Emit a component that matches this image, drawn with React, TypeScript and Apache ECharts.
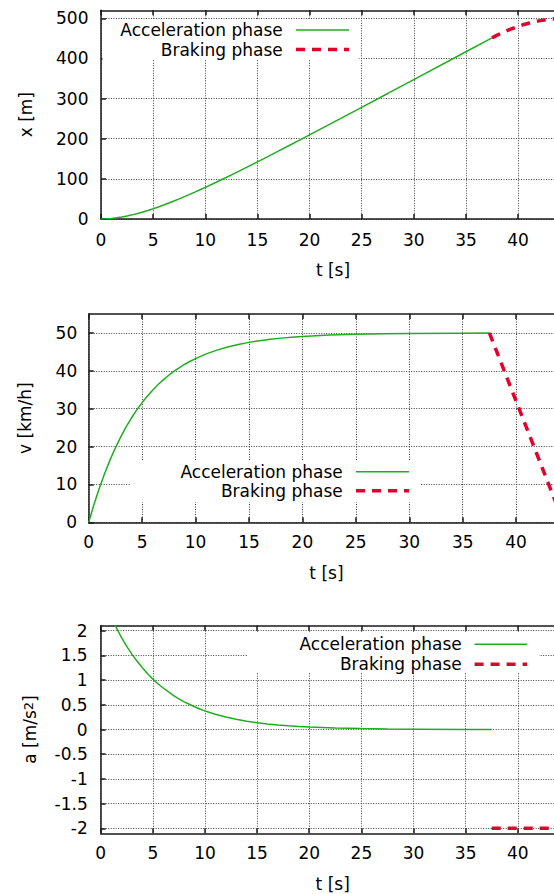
import { useEffect, useRef } from 'react';
import * as echarts from 'echarts';

// ---- data ----
const accelTime = [0, 0.5, 1, 1.5, 2, 2.5, 3, 3.5, 4, 4.5, 5, 5.5, 6, 6.5, 7, 7.5, 8, 8.5, 9, 9.5, 10, 11, 12, 13, 14, 15, 16, 17, 18, 19, 20, 22.5, 25, 27.5, 30, 35, 37.5];
const accelPosition = [0, 0.34, 1.3, 2.84, 4.88, 7.4, 10.33, 13.65, 17.32, 21.29, 25.55, 30.06, 34.81, 39.76, 44.9, 50.22, 55.69, 61.3, 67.04, 72.89, 78.84, 91.03, 103.52, 116.27, 129.22, 142.35, 155.61, 168.99, 182.46, 196.0, 209.61, 243.83, 278.25, 312.79, 347.4, 416.73, 451.43];
const accelVelocity = [0, 4.76, 9.06, 12.96, 16.48, 19.67, 22.56, 25.17, 27.53, 29.67, 31.61, 33.36, 34.94, 36.37, 37.67, 38.84, 39.91, 40.87, 41.74, 42.52, 43.23, 44.46, 45.46, 46.29, 46.96, 47.51, 47.96, 48.33, 48.63, 48.88, 49.08, 49.44, 49.66, 49.8, 49.88, 49.95, 49.97];
const accelAcceleration = [2.78, 2.51, 2.27, 2.06, 1.86, 1.68, 1.52, 1.38, 1.25, 1.13, 1.02, 0.92, 0.84, 0.76, 0.685, 0.62, 0.56, 0.51, 0.46, 0.415, 0.376, 0.308, 0.252, 0.206, 0.169, 0.138, 0.113, 0.093, 0.076, 0.062, 0.051, 0.031, 0.019, 0.011, 0.007, 0.0025, 0.0015];

const brakeTime = [37.5, 38, 38.5, 39, 39.5, 40, 40.5, 41, 41.5, 42, 42.5, 43, 43.5, 44, 44.44];
const brakePosition = [451.43, 458.12, 464.32, 470.01, 475.21, 479.9, 484.1, 487.79, 490.99, 493.68, 495.88, 497.57, 498.76, 499.46, 499.65];
const brakeVelocityTime = [37.5, 44.44];
const brakeVelocity = [50, 0];
const brakeAccelerationTime = [37.5, 44.44];
const brakeAcceleration = [-2, -2];

const timeTicks = [0, 5, 10, 15, 20, 25, 30, 35, 40];
const positionTicks = [0, 100, 200, 300, 400, 500];
const velocityTicks = [0, 10, 20, 30, 40, 50];
const accelerationTicks = [-2, -1.5, -1, -0.5, 0, 0.5, 1, 1.5, 2];

const seriesNames = ['Acceleration phase', 'Braking phase'];
const timeTitle = 't [s]';

// ---- styles ----
const FONT = 'DejaVu Sans';
const FS = 17;
const GREEN = '#1fae1f';
const RED = '#e3002c';
const BORDER = '#1a1a1a';
const GRIDC = '#404040';
const DASH = [9, 7];

const pairs = (xs: number[], ys: number[]) => xs.map((x, i) => [x, ys[i]]);

const panels = [
  {
    grid: { left: 101, top: 10.3, width: 464, height: 208.7 },
    yMin: 0, yMax: 520, yTicks: positionTicks, yName: 'x [m]', yGap: 67,
    xMargin: 12, yMargin: 12.5,
    accel: pairs(accelTime, accelPosition), brake: pairs(brakeTime, brakePosition),
    legend: { box: [102.5, 20, 256.5, 40], right: 282.7, y1: 30, y2: 49.6, s1: 296, s2: 349 },
  },
  {
    grid: { left: 88.7, top: 314, width: 475.5, height: 208.3 },
    yMin: 0, yMax: 55, yTicks: velocityTicks, yName: 'v [km/h]', yGap: 55,
    xMargin: 11, yMargin: 11.5,
    accel: pairs(accelTime, accelVelocity), brake: pairs(brakeVelocityTime, brakeVelocity),
    legend: { box: [130, 460, 290, 42], right: 342.8, y1: 471.7, y2: 490.7, s1: 356, s2: 409 },
  },
  {
    grid: { left: 100.7, top: 625.7, width: 464, height: 207.6 },
    yMin: -2.1, yMax: 2.1, yTicks: accelerationTicks, yName: 'a [m/s{sup|2}]', yGap: 62,
    xMargin: 11.5, yMargin: 13,
    accel: pairs(accelTime, accelAcceleration), brake: pairs(brakeAccelerationTime, brakeAcceleration),
    legend: { box: [247, 633, 292, 40], right: 461.8, y1: 644.3, y2: 664.3, s1: 474.6, s2: 527 },
  },
];

export default function App() {
  const ref = useRef<HTMLDivElement>(null);
  useEffect(() => {
    if (!ref.current) return;
    const chart = echarts.init(ref.current, undefined, { renderer: 'svg' });

    const lineStyleBorder = { color: BORDER, width: 1.5 };
    const gridLine = { show: true, lineStyle: { color: GRIDC, width: 1, type: [1, 1.5] as any } };
    const labelStyle = { fontFamily: FONT, fontSize: FS, color: '#000' };

    const grids: any[] = [];
    const xAxes: any[] = [];
    const yAxes: any[] = [];
    const series: any[] = [];
    const graphics: any[] = [];

    panels.forEach((p, i) => {
      grids.push({ ...p.grid, containLabel: false, outerBoundsMode: 'none' });
      xAxes.push({
        type: 'value', gridIndex: i, position: 'bottom', min: 0, max: 44.5,
        axisLine: { show: true, onZero: false, lineStyle: lineStyleBorder },
        axisTick: { show: true, inside: true, length: 5, customValues: timeTicks, lineStyle: lineStyleBorder },
        axisLabel: { ...labelStyle, margin: p.xMargin, customValues: timeTicks },
        splitLine: gridLine,
        name: timeTitle, nameLocation: 'middle', nameGap: 42,
        nameTextStyle: labelStyle,
      });
      xAxes.push({
        type: 'value', gridIndex: i, position: 'top', min: 0, max: 44.5,
        axisLine: { show: true, onZero: false, lineStyle: lineStyleBorder },
        axisTick: { show: true, inside: true, length: 5, customValues: timeTicks, lineStyle: lineStyleBorder },
        axisLabel: { show: false },
        splitLine: { show: false },
      });
      yAxes.push({
        type: 'value', gridIndex: i, position: 'left', min: p.yMin, max: p.yMax,
        axisLine: { show: true, onZero: false, lineStyle: lineStyleBorder },
        axisTick: { show: true, inside: true, length: 5, customValues: p.yTicks, lineStyle: lineStyleBorder },
        axisLabel: { ...labelStyle, margin: p.yMargin, customValues: p.yTicks },
        splitLine: gridLine,
        name: p.yName, nameLocation: 'middle', nameGap: p.yGap, nameRotate: 90,
        nameTextStyle: {
          ...labelStyle,
          rich: { sup: { fontFamily: FONT, fontSize: 13, verticalAlign: 'top', lineHeight: 10, color: '#000' } },
        },
      });
      series.push({
        name: seriesNames[0], type: 'line', xAxisIndex: i * 2, yAxisIndex: i,
        data: p.accel, showSymbol: false, symbol: 'none',
        smooth: false, clip: true,
        lineStyle: { color: GREEN, width: 1.5 }, z: 3,
      });
      series.push({
        name: seriesNames[1], type: 'line', xAxisIndex: i * 2, yAxisIndex: i,
        data: p.brake, showSymbol: false, symbol: 'none',
        smooth: false, clip: true,
        lineStyle: { color: RED, width: 3.5, type: DASH, cap: 'butt' }, z: 3,
      });
      const L = p.legend;
      graphics.push({
        type: 'rect', z: 1,
        shape: { x: L.box[0], y: L.box[1], width: L.box[2], height: L.box[3] },
        style: { fill: '#fff' },
      });
      graphics.push({
        type: 'text', z: 2, x: L.right, y: L.y1,
        style: { text: seriesNames[0], fontFamily: FONT, fontSize: FS, fill: '#000', textAlign: 'right', textVerticalAlign: 'middle' },
      });
      graphics.push({
        type: 'text', z: 2, x: L.right, y: L.y2,
        style: { text: seriesNames[1], fontFamily: FONT, fontSize: FS, fill: '#000', textAlign: 'right', textVerticalAlign: 'middle' },
      });
      graphics.push({
        type: 'line', z: 2,
        shape: { x1: L.s1, y1: L.y1, x2: L.s2, y2: L.y1 },
        style: { stroke: GREEN, lineWidth: 1.5 },
      });
      graphics.push({
        type: 'line', z: 2,
        shape: { x1: L.s1, y1: L.y2, x2: L.s2, y2: L.y2 },
        style: { stroke: RED, lineWidth: 3.5, lineDash: DASH, lineCap: 'butt' },
      });
    });

    chart.setOption({
      animation: false,
      backgroundColor: '#fff',
      textStyle: { fontFamily: FONT },
      grid: grids,
      xAxis: xAxes,
      yAxis: yAxes,
      series,
      graphic: graphics,
    });
    return () => chart.dispose();
  }, []);
  return <div ref={ref} style={{ position: 'absolute', left: 0, top: 0, width: 554, height: 894 }} />;
}
